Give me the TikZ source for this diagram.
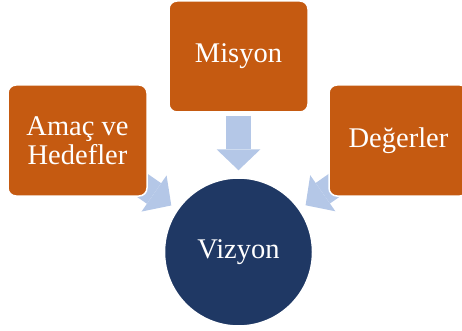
\documentclass[tikz,border=0pt]{standalone}
\usepackage{fontspec}
\setmainfont{LiberationSerif}[Extension=.ttf, UprightFont=*-Regular, BoldFont=*-Bold]
\usetikzlibrary{arrows.meta,backgrounds}
\definecolor{turuncu}{HTML}{C55A11}
\definecolor{lacivert}{HTML}{1F3864}
\definecolor{okmavi}{HTML}{B4C7E7}
\begin{document}
\begin{tikzpicture}[x=1pt, y=-1pt,
        hedef/.style={draw=white, line width=1.5pt, fill=turuncu, rounded corners=8pt,
            minimum width=139pt, minimum height=111pt, text=white, align=center,
            font=\fontsize{28.5}{29}\selectfont},
        merkez/.style={circle, draw=white, line width=1.5pt, fill=lacivert,
            minimum size=148pt, text=white, font=\fontsize{28.5}{29}\selectfont},
        ok/.style={draw=okmavi, line width=25pt,
            -{Triangle[length=21pt, width=44pt, line width=0pt]}, shorten >=7pt}]
        \clip (0,0) rectangle (462,331);
        \useasboundingbox (0,0) rectangle (462,331);

        \node[hedef] (misyon) at (238.5,56.5) {Misyon};
        \node[hedef] (amac) at (77.5,140.5) {Amaç ve\\Hedefler};
        \node[hedef] (degerler) at (398.5,140.5) {Değerler};
        \node[merkez] (vizyon) at (238.5,252) {Vizyon};

        \begin{pgfonlayer}{background}
        \draw[ok, shorten <=3pt] (misyon) -- (vizyon);
        \draw[ok, shorten <=-20pt] (amac) -- (vizyon);
        \draw[ok, shorten <=-20pt] (degerler) -- (vizyon);
        \end{pgfonlayer}
    \end{tikzpicture}
\end{document}
